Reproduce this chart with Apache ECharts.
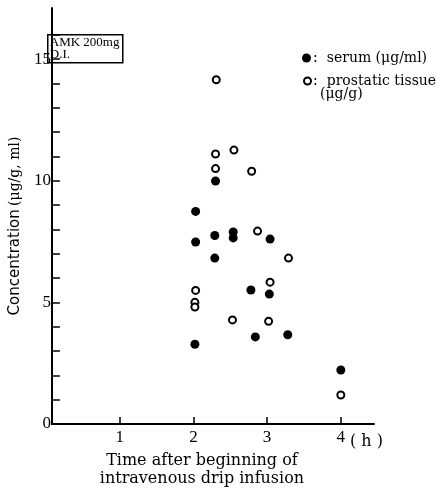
<!DOCTYPE html>
<html>
<head>
<meta charset="utf-8">
<script src="https://cdn.jsdelivr.net/npm/echarts@6/dist/echarts.min.js"></script>
<style>
  html, body { margin: 0; padding: 0; background: #fff; }
  #chart { width: 446px; height: 493px; }
</style>
</head>
<body>
<div id="chart"></div>
<script>
// time after start of infusion (h), concentration
const serumTime = [2.03, 2.03, 2.02, 2.30, 2.29, 2.29, 2.54, 2.54, 2.78, 2.84, 3.04, 3.03, 3.28, 4.0]
const serumConc = [8.74, 7.48, 3.28, 9.99, 7.75, 6.82, 7.89, 7.65, 5.51, 3.58, 7.60, 5.34, 3.67, 2.22]
const tissueTime = [2.31, 2.30, 2.30, 2.55, 2.79, 2.87, 3.29, 3.04, 2.03, 2.02, 2.02, 2.53, 3.02, 4.0]
const tissueConc = [14.15, 11.1, 10.5, 11.26, 10.39, 7.93, 6.82, 5.83, 5.49, 5.0, 4.81, 4.28, 4.22, 1.19]
const xTicks = [1, 2, 3, 4]
const yTicks = [0, 1, 2, 3, 4, 5, 6, 7, 8, 9, 10, 11, 12, 13, 14, 15, 16]
const yLabels = [0, 5, 10, 15]

const pairs = (xs, ys) => xs.map((x, i) => [x, ys[i]])
const serif = 'DejaVu Serif'
const digits = 'Liberation Serif'

const legendText = {
    fontFamily: serif, fontSize: 14, color: '#000', padding: [0, 0, 0, -3],
    rich: { t: { fontFamily: serif, fontSize: 14, color: '#000', padding: [0, 0, 0, 9] } }
}

const myChart = echarts.init(document.getElementById('chart'))
myChart.setOption({
    animation: false,
    grid: { left: 46, right: 72, top: 8, bottom: 64 },
    legend: [
        {
            left: 297, top: 46, itemWidth: 9, itemHeight: 9,
            textStyle: legendText,
            formatter: ':{t|serum (μg/ml)}',
            data: [{ name: 'serum', icon: 'circle', itemStyle: { color: '#000', opacity: 1 } }]
        },
        {
            left: 298, top: 69, itemWidth: 7, itemHeight: 7,
            textStyle: legendText,
            formatter: ':{t|prostatic tissue}',
            data: [{ name: 'tissue', icon: 'emptyCircle', itemStyle: { color: '#000', borderWidth: 2, opacity: 1 } }]
        }
    ],
    xAxis: {
        type: 'value',
        min: 0.08,
        max: 4.45,
        name: 'Time after beginning of\nintravenous drip infusion',
        nameLocation: 'middle',
        nameGap: 28,
        nameTextStyle: { fontFamily: serif, fontSize: 16, color: '#000', lineHeight: 18, padding: [0, 22, 0, 0] },
        splitLine: { show: false },
        axisLine: { lineStyle: { color: '#000', width: 2 } },
        axisTick: { inside: true, length: 7, customValues: xTicks, lineStyle: { color: '#000', width: 1.5 } },
        axisLabel: { customValues: xTicks, fontFamily: digits, fontSize: 17, color: '#000', margin: 5 }
    },
    yAxis: {
        type: 'value',
        min: 0,
        max: 17.1,
        name: '{a|Concentration} {b|(μg/g, ml)}',
        nameLocation: 'middle',
        nameGap: 24,
        nameTextStyle: {
            padding: [0, 20, 0, 0],
            rich: {
                a: { fontFamily: 'DejaVu Sans', fontSize: 15, color: '#000' },
                b: { fontFamily: serif, fontSize: 14, color: '#000' }
            }
        },
        splitLine: { show: false },
        axisLine: { lineStyle: { color: '#000', width: 2 } },
        axisTick: { inside: true, length: 8, customValues: yTicks, lineStyle: { color: '#000', width: 1.5 } },
        axisLabel: { customValues: yLabels, fontFamily: digits, fontSize: 17, color: '#000', margin: 1 }
    },
    graphic: [
        {
            type: 'group', left: 47, top: 34,
            children: [
                { type: 'rect', shape: { x: 0, y: 0, width: 75, height: 28 }, style: { fill: '#fff', stroke: '#000', lineWidth: 1.5 } },
                { type: 'text', x: 2, y: 2, style: { text: 'AMK 200mg\nD.I.', font: '13px "Liberation Serif"', fill: '#000', lineHeight: 12 } }
            ]
        },
        { type: 'text', left: 320, top: 87, style: { text: '(μg/g)', font: '14px "DejaVu Serif"', fill: '#000' } },
        { type: 'text', left: 350, top: 434, style: { text: '( h )', font: '16px "DejaVu Serif"', fill: '#000' } }
    ],
    series: [
        {
            name: 'serum',
            type: 'scatter',
            symbol: 'circle',
            symbolSize: 9,
            itemStyle: { color: '#000', opacity: 1 },
            data: pairs(serumTime, serumConc)
        },
        {
            name: 'tissue',
            type: 'scatter',
            symbol: 'emptyCircle',
            symbolSize: 7,
            itemStyle: { color: '#000', borderWidth: 2, opacity: 1 },
            data: pairs(tissueTime, tissueConc)
        }
    ]
})
</script>
</body>
</html>
